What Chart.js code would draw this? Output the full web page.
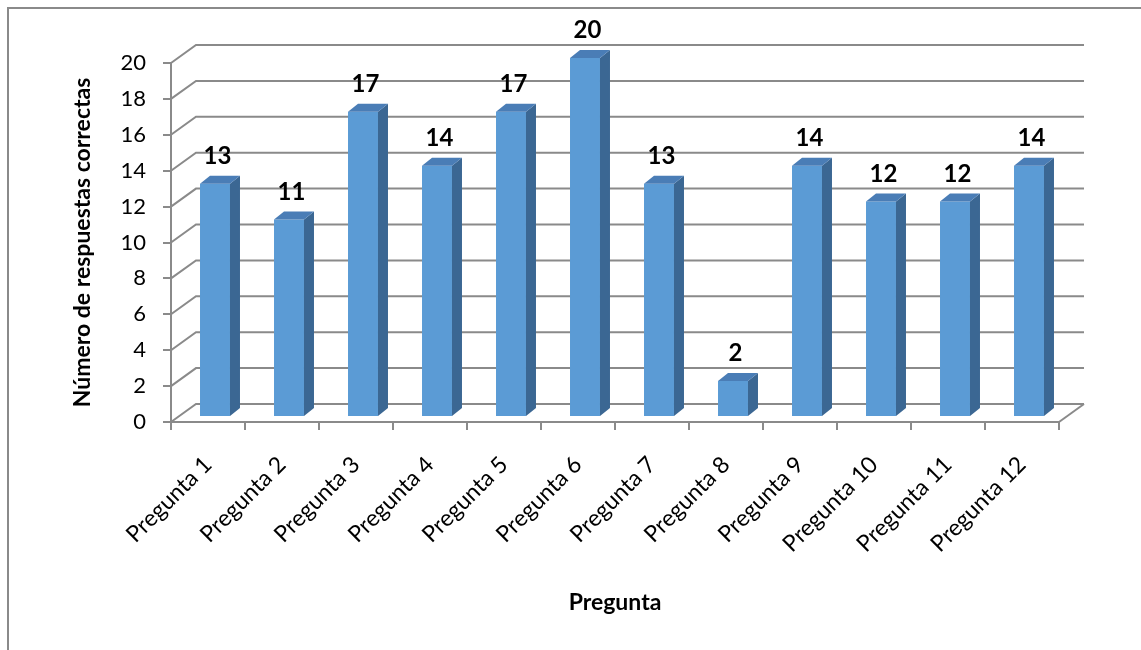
<!DOCTYPE html>
<html lang="es">
<head>
<meta charset="utf-8">
<title>Número de respuestas correctas por pregunta</title>
<script src="https://cdn.jsdelivr.net/npm/chart.js@4.4.1/dist/chart.umd.min.js"></script>
<style>
  html, body { margin: 0; padding: 0; background: #ffffff; }
  #wrap { position: relative; width: 1141px; height: 650px; }
</style>
</head>
<body>
<div id="wrap"><canvas id="grafico" width="1141" height="650"></canvas></div>
<script>
// Datos del gráfico
const categories = ['Pregunta 1', 'Pregunta 2', 'Pregunta 3', 'Pregunta 4', 'Pregunta 5', 'Pregunta 6',
                    'Pregunta 7', 'Pregunta 8', 'Pregunta 9', 'Pregunta 10', 'Pregunta 11', 'Pregunta 12'];
const respuestasCorrectas = [13, 11, 17, 14, 17, 20, 13, 2, 14, 12, 12, 14];
const yMin = 0;
const yMax = 20;
const yStep = 2;
const yTitle = 'Número de respuestas correctas';
const xTitle = 'Pregunta';

// Aspecto 3D
const FONT = 'Lato, "Liberation Sans", sans-serif';
const GRID = '#8a8a8a';
const WALL_DEPTH = { x: 25, y: -18 };   // profundidad de las paredes
const BAR_SHIFT = { x: 7, y: -5 };      // posición de las barras dentro de la profundidad
const BAR_DEPTH = { x: 10, y: -8 };     // grosor de cada barra
const FRONT = '#5b9bd5';
const TOP = '#4a7db6';
const SIDE = '#3b6793';

const efecto3D = {
  id: 'efecto3D',
  beforeDraw(chart) {
    const ctx = chart.ctx;
    ctx.save();
    ctx.strokeStyle = GRID;
    ctx.lineWidth = 2;
    ctx.beginPath();
    ctx.moveTo(8, chart.height);
    ctx.lineTo(8, 8);
    ctx.lineTo(chart.width, 8);
    ctx.stroke();
    ctx.restore();
  },
  beforeDatasetsDraw(chart) {
    const ctx = chart.ctx;
    const xs = chart.scales.x, ys = chart.scales.y;
    ctx.save();
    ctx.strokeStyle = GRID;
    ctx.lineWidth = 2;
    ctx.lineJoin = 'miter';
    ys.ticks.forEach(t => {
      const y = ys.getPixelForValue(t.value);
      ctx.beginPath();
      ctx.moveTo(xs.left, y);
      ctx.lineTo(xs.left + WALL_DEPTH.x, y + WALL_DEPTH.y);
      ctx.lineTo(xs.right + WALL_DEPTH.x, y + WALL_DEPTH.y);
      ctx.stroke();
    });
    const y0 = ys.getPixelForValue(yMin);
    ctx.beginPath();
    ctx.moveTo(xs.right, y0);
    ctx.lineTo(xs.right + WALL_DEPTH.x, y0 + WALL_DEPTH.y);
    ctx.stroke();
    ctx.restore();
    // las caras frontales se dibujan desplazadas hacia el fondo
    ctx.save();
    ctx.translate(BAR_SHIFT.x, BAR_SHIFT.y);
  },
  afterDatasetsDraw(chart) {
    const ctx = chart.ctx;
    ctx.restore();
    const meta = chart.getDatasetMeta(0);
    ctx.save();
    meta.data.forEach((bar, i) => {
      const p = bar.getProps(['x', 'y', 'base', 'width'], true);
      const xl = p.x - p.width / 2 + BAR_SHIFT.x;
      const xr = p.x + p.width / 2 + BAR_SHIFT.x;
      const yt = p.y + BAR_SHIFT.y;
      const yb = p.base + BAR_SHIFT.y;
      // cara lateral
      ctx.fillStyle = SIDE;
      ctx.beginPath();
      ctx.moveTo(xr, yt);
      ctx.lineTo(xr + BAR_DEPTH.x, yt + BAR_DEPTH.y);
      ctx.lineTo(xr + BAR_DEPTH.x, yb + BAR_DEPTH.y);
      ctx.lineTo(xr, yb);
      ctx.closePath();
      ctx.fill();
      // cara superior
      ctx.fillStyle = TOP;
      ctx.beginPath();
      ctx.moveTo(xl, yt);
      ctx.lineTo(xl + BAR_DEPTH.x, yt + BAR_DEPTH.y);
      ctx.lineTo(xr + BAR_DEPTH.x, yt + BAR_DEPTH.y);
      ctx.lineTo(xr, yt);
      ctx.closePath();
      ctx.fill();
      // etiqueta de valor
      ctx.fillStyle = '#000000';
      ctx.font = 'bold 24px ' + FONT;
      ctx.textAlign = 'center';
      ctx.textBaseline = 'alphabetic';
      ctx.fillText(String(chart.data.datasets[0].data[i]),
                   (xl + xr) / 2 + BAR_DEPTH.x / 4,
                   yt + BAR_DEPTH.y - 12);
    });
    ctx.restore();
  }
};

new Chart(document.getElementById('grafico'), {
  type: 'bar',
  data: {
    labels: categories,
    datasets: [{
      label: yTitle,
      data: respuestasCorrectas,
      backgroundColor: FRONT,
      borderWidth: 0,
      barPercentage: 0.405,
      categoryPercentage: 1.0,
      clip: false
    }]
  },
  options: {
    responsive: false,
    animation: false,
    events: [],
    layout: { padding: { top: 63, right: 82, left: 0, bottom: 0 } },
    plugins: {
      legend: { display: false },
      tooltip: { enabled: false },
      title: { display: false }
    },
    scales: {
      x: {
        offset: true,
        grid: { display: true, drawOnChartArea: false, drawTicks: true, tickLength: 8, color: GRID, lineWidth: 2, offset: true },
        border: { display: true, color: GRID, width: 2 },
        ticks: {
          autoSkip: false,
          minRotation: 45,
          maxRotation: 45,
          padding: 21,
          color: '#000000',
          font: { family: FONT, size: 23 }
        },
        title: {
          display: true,
          text: xTitle,
          color: '#000000',
          font: { family: FONT, size: 23, weight: 'bold' },
          padding: { top: 0, bottom: 34 }
        },
        afterFit(scale) { scale.height = 228; }
      },
      y: {
        min: yMin,
        max: yMax,
        grid: { display: true, drawOnChartArea: false, drawTicks: true, tickLength: 8, color: GRID, lineWidth: 2 },
        border: { display: true, color: GRID, width: 2 },
        ticks: {
          stepSize: yStep,
          padding: 17,
          color: '#000000',
          font: { family: FONT, size: 22 }
        },
        title: {
          display: true,
          text: yTitle,
          color: '#000000',
          font: { family: FONT, size: 23, weight: 'bold' },
          padding: { top: 69, bottom: 0 }
        },
        afterFit(scale) { scale.width = 171; }
      }
    }
  },
  plugins: [efecto3D]
});
</script>
</body>
</html>
